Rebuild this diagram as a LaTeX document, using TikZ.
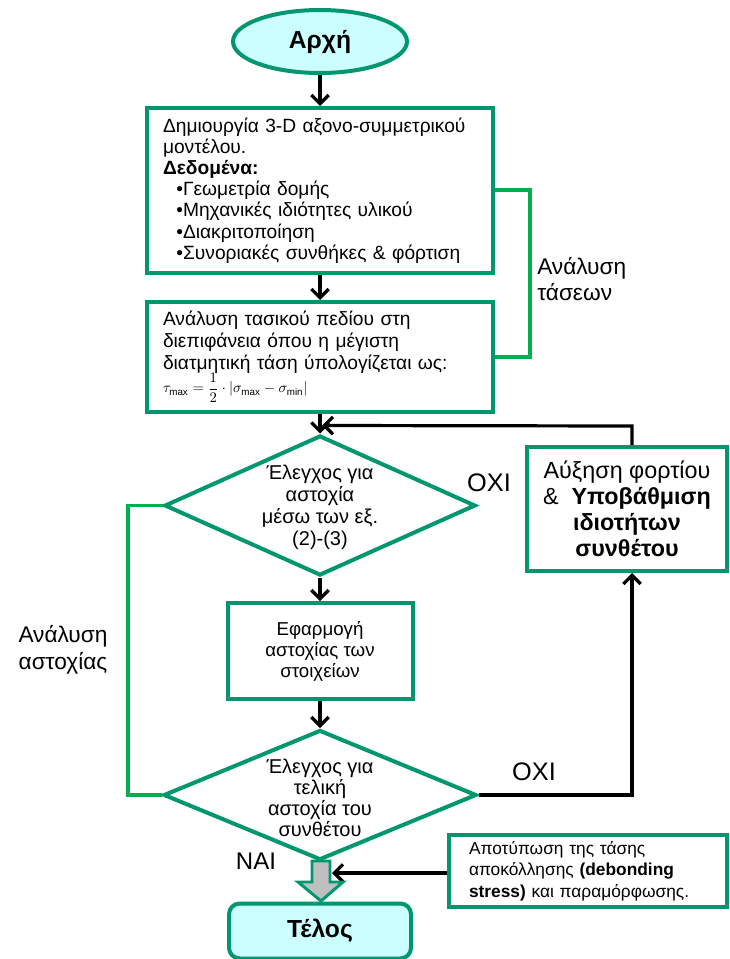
\documentclass[tikz,border=0pt]{standalone}
\usepackage{fontspec}
\setmainfont{Liberation Sans}
\usetikzlibrary{arrows.meta,shapes.geometric,calc}
\definecolor{teal1}{RGB}{0,150,110}
\definecolor{brgreen}{RGB}{0,176,80}
\definecolor{lcyan}{RGB}{204,255,255}
\definecolor{gfill}{RGB}{191,191,191}
\begin{document}
\begin{tikzpicture}[x=0.75pt,y=-0.75pt,
  box/.style={draw=teal1, line width=3pt, fill=white, inner sep=0pt},
  txt/.style={font=\fontsize{14}{16}\selectfont, align=center, inner sep=0pt},
  arr/.style={line width=2.4pt, -{Straight Barb[length=6.5pt,width=13pt,line width=2.4pt]}},
  brk/.style={draw=brgreen, line width=2.4pt},
  lbl/.style={font=\fontsize{17}{20}\selectfont, inner sep=0pt}]
\useasboundingbox (0,0) rectangle (729,959);

% start
\node[ellipse, draw=teal1, line width=3pt, fill=lcyan, minimum width=130.5pt, minimum height=47.25pt, inner sep=0pt,
  font=\fontsize{18.5}{21}\selectfont\bfseries] (start) at (320,41.5) {Αρχή};

% box 1
\node[box, minimum width=259.5pt, minimum height=123.75pt, text width=235.5pt, inner xsep=12pt, align=left,
  font=\fontsize{14.4}{15.9}\selectfont] (b1) at (320,190.5) {%
Δημιουργία 3-D αξονο-συμμετρικού\\
μοντέλου.\\
\textbf{Δεδομένα:}\\
\hspace*{10pt}•Γεωμετρία δομής\\
\hspace*{10pt}•Μηχανικές ιδιότητες υλικού\\
\hspace*{10pt}•Διακριτοποίηση\\
\hspace*{10pt}•Συνοριακές συνθήκες \& φόρτιση};

% box 2
\node[box, minimum width=259.5pt, minimum height=82.5pt, text width=235.5pt, inner xsep=12pt, align=left,
  font=\fontsize{14.4}{16.5}\selectfont] (b2) at (320,357) {%
Ανάλυση τασικού πεδίου στη\\
διεπιφάνεια όπου η μέγιστη\\
διατμητική τάση ύπολογίζεται ως:\\[-1pt]
{\fontsize{10.5}{12}\selectfont $\displaystyle\tau_{\max}=\frac{1}{2}\cdot\left|\sigma_{\max}-\sigma_{\min}\right|$}};

% diamond 1
\node[diamond, draw=teal1, line width=3pt, fill=white, minimum width=233.25pt, minimum height=105pt, inner sep=0pt] (d1) at (320,505.5) {};
\node[txt, font=\fontsize{15}{16.5}\selectfont] (d1t) at (320,507) {Έλεγχος για\\ αστοχία\\ μέσω των εξ.\\ (2)-(3)};

% box 3
\node[box, minimum width=138.75pt, minimum height=72pt, txt, font=\fontsize{14}{15.8}\selectfont] (b3) at (320,651) {Εφαρμογή\\ αστοχίας των\\ στοιχείων};

% diamond 2
\node[diamond, draw=teal1, line width=3pt, fill=white, minimum width=234.75pt, minimum height=97.5pt, inner sep=0pt] (d2) at (320,795) {};
\node[txt, font=\fontsize{15}{15.75}\selectfont] (d2t) at (320,798) {Έλεγχος για\\ τελική\\ αστοχία του\\ συνθέτου};

% right box
\node[box, minimum width=150pt, minimum height=93pt, align=center, font=\fontsize{17.5}{19.5}\selectfont] (rb) at (627,509) {Αύξηση φορτίου\\ \&\ \ \textbf{Υποβάθμιση}\\ \textbf{ιδιοτήτων}\\ \textbf{συνθέτου}};

% debonding box
\node[box, minimum width=208.5pt, minimum height=54pt, text width=178.5pt, inner xsep=15pt, align=left,
  font=\fontsize{13}{16.2}\selectfont] (ap) at (588,871) {%
Αποτύπωση της τάσης\\
αποκόλλησης \textbf{(debonding}\\
\textbf{stress)} και παραμόρφωσης.};

% end
\node[draw=teal1, line width=3pt, fill=lcyan, rounded corners=8pt, minimum width=136.5pt, minimum height=41.25pt, inner sep=0pt,
  font=\fontsize{18.5}{21}\selectfont\bfseries] (end) at (320,931) {Τέλος};

% coordinates
\coordinate (fb) at (632,426);
\coordinate (rl) at (530,0);
\coordinate (ll) at (128,0);
\coordinate (gtip) at (321,901);
\coordinate (gside) at (332,873);

% arrows
\draw[arr] (start.south) -- (b1.north);
\draw[arr] (b1.south) -- (b2.north);
\draw[arr] (b2.south) -- (d1.north);
\draw[arr] (rb.north -| fb) -- (fb) -- ($(d1.north)+(2,-8)$);
\draw[arr] (d1.south) -- (b3.north);
\draw[arr] (b3.south) -- (d2.north);
\draw[arr] (d2.east) -| (rb.south -| fb);
\draw[arr] (ap.west |- gside) -- (gside);

% gray block arrow
\draw[draw=teal1, line width=2.2pt, fill=gfill, line join=miter]
  (312,861) -- (330,861) -- (330,882) -- (343,882) -- (gtip) -- (298,882) -- (312,882) -- cycle;

% green brackets
\draw[brk] (b1.east |- 0,190) -- (rl |- 0,190) -- (rl |- 0,357) -- (b2.east |- 0,357);
\draw[brk] (d1.west) -- (ll |- d1.west) -- (ll |- d2.west) -- (d2.west);

% labels
\node[lbl, anchor=west, align=left] (l1) at (537,279) {Ανάλυση\\ τάσεων};
\node[lbl, align=center] (l2) at (63,650) {Ανάλυση\\ αστοχίας};
\node[lbl, font=\fontsize{19}{21}\selectfont] (o1) at (489,483) {ΟΧΙ};
\node[lbl, font=\fontsize{19}{21}\selectfont] (o2) at (534,772) {ΟΧΙ};
\node[lbl, font=\fontsize{18}{21}\selectfont] (nai) at (256,861) {ΝΑΙ};
\end{tikzpicture}
\end{document}
